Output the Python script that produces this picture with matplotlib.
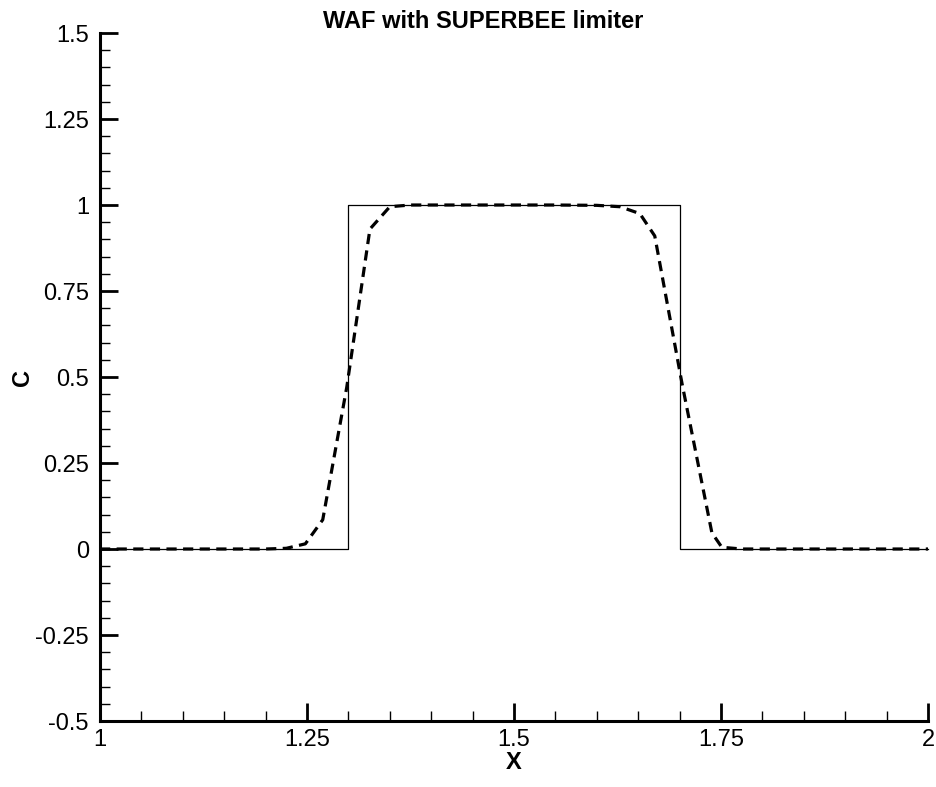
import matplotlib
matplotlib.use("Agg")
import matplotlib.pyplot as plt
from matplotlib.ticker import MultipleLocator

plt.rcParams['font.family'] = ['Liberation Sans', 'DejaVu Sans']

# exact solution (square pulse)
x_exact = [1.0, 1.3, 1.3, 1.7, 1.7, 2.0]
c_exact = [0.0, 0.0, 1.0, 1.0, 0.0, 0.0]

# WAF / SUPERBEE numerical solution
x_waf = [1.0, 1.05, 1.1, 1.15, 1.2, 1.225, 1.248, 1.269, 1.298, 1.326, 1.350,
         1.375, 1.4, 1.45, 1.5, 1.55, 1.6, 1.628, 1.652, 1.670, 1.703, 1.739,
         1.751, 1.775, 1.8, 1.85, 1.9, 1.95, 2.0]
c_waf = [0.0, 0.0, 0.0, 0.0, 0.0, 0.002, 0.015, 0.085, 0.47, 0.93, 0.995,
         1.0, 1.0, 1.0, 1.0, 1.0, 0.999, 0.995, 0.975, 0.91, 0.48, 0.047,
         0.005, 0.0, 0.0, 0.0, 0.0, 0.0, 0.0]

fig = plt.figure(figsize=(9.37, 7.87), dpi=100)
ax = fig.add_axes([100/937, 1-721/787, 828/937, 688/787])

ax.plot(x_exact, c_exact, color='black', linewidth=0.9, clip_on=False)
ax.plot(x_waf, c_waf, color='black', linewidth=2.3, dashes=(3.2, 2.0), clip_on=False)

ax.set_xlim(1, 2)
ax.set_ylim(-0.5, 1.5)

ax.xaxis.set_major_locator(MultipleLocator(0.25))
ax.xaxis.set_minor_locator(MultipleLocator(0.05))
ax.yaxis.set_major_locator(MultipleLocator(0.25))
ax.yaxis.set_minor_locator(MultipleLocator(0.05))
ax.set_xticks([1, 1.25, 1.5, 1.75, 2])
ax.set_xticklabels(['1', '1.25', '1.5', '1.75', '2'])
ax.set_yticks([-0.5, -0.25, 0, 0.25, 0.5, 0.75, 1, 1.25, 1.5])
ax.set_yticklabels(['-0.5', '-0.25', '0', '0.25', '0.5', '0.75', '1', '1.25', '1.5'])

ax.spines['top'].set_visible(False)
ax.spines['right'].set_visible(False)
ax.spines['left'].set_linewidth(2.2)
ax.spines['bottom'].set_linewidth(2.2)

ax.tick_params(which='major', direction='in', length=13, width=2.0, labelsize=17)
ax.tick_params(which='minor', direction='in', length=7, width=1.0)
ax.tick_params(axis='y', which='major', pad=8)
ax.tick_params(axis='x', which='major', pad=6)

ax.text(-0.094, 0.5, 'C', transform=ax.transAxes, rotation=90,
        ha='center', va='center', fontsize=17, fontweight='bold')
ax.text(0.5, -0.06, 'X', transform=ax.transAxes,
        ha='center', va='center', fontsize=17, fontweight='bold')

fig.text(483/937, 1-21.5/787, 'WAF with SUPERBEE limiter',
         ha='center', va='center', fontsize=17, fontweight='bold')

fig.savefig('out.png', dpi=100)
